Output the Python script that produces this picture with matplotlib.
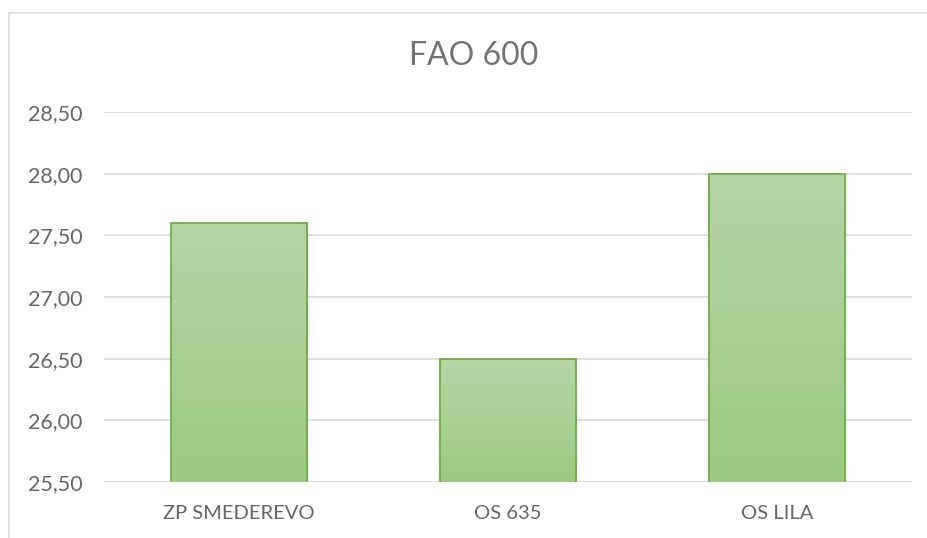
import matplotlib.pyplot as plt
import numpy as np
from matplotlib.colors import LinearSegmentedColormap

categories = ["ZP SMEDEREVO", "OS 635", "OS LILA"]
values = [27.60, 26.50, 28.00]
yticks = [25.50, 26.00, 26.50, 27.00, 27.50, 28.00, 28.50]
title = "FAO 600"

plt.rcParams['font.family'] = ['Lato', 'DejaVu Sans']

fig = plt.figure(figsize=(9.27, 5.38), dpi=100)
ax = fig.add_axes([104 / 927, 1 - 482 / 538, 808 / 927, 370 / 538])

x = np.arange(len(categories))
bars = ax.bar(x, values, width=0.505, bottom=0, color="none",
              edgecolor="#70AD47", linewidth=1.3, zorder=3)

# vertical gradient fill, lighter at the top
cmap = LinearSegmentedColormap.from_list("g", ["#9CC983", "#B5D5A6"])
grad = np.linspace(0, 1, 256).reshape(-1, 1)
for b in bars:
    x0, w, h = b.get_x(), b.get_width(), b.get_height()
    im = ax.imshow(grad, cmap=cmap, origin="lower", aspect="auto",
                   extent=[x0, x0 + w, yticks[0], h], zorder=2)
    im.set_clip_path(b)

ax.set_xlim(-0.5, len(categories) - 0.5)
ax.set_ylim(yticks[0], yticks[-1])
ax.set_yticks(yticks)
ax.set_yticklabels([f"{v:.2f}".replace(".", ",") for v in yticks])
ax.set_xticks(x)
ax.set_xticklabels(categories)
ax.grid(axis="y", color="#D9D9D9", linewidth=1.2, zorder=0)
ax.set_axisbelow(True)
for s in ax.spines.values():
    s.set_visible(False)
ax.tick_params(length=0, colors="#666666")
ax.tick_params(axis="y", pad=15.5, labelsize=15.5)
ax.tick_params(axis="x", pad=16.5, labelsize=14.5)

fig.text(474 / 927, 1 - 56 / 538, title, ha="center", va="center",
         fontsize=23, color="#737373")

# chart area border (left and top visible)
fig.add_artist(plt.Line2D([9 / 927, 9 / 927], [0, 1 - 13 / 538],
                          color="#D9D9D9", linewidth=1.2))
fig.add_artist(plt.Line2D([9 / 927, 1], [1 - 13 / 538, 1 - 13 / 538],
                          color="#D9D9D9", linewidth=1.2))

fig.savefig("out.png", dpi=100)
